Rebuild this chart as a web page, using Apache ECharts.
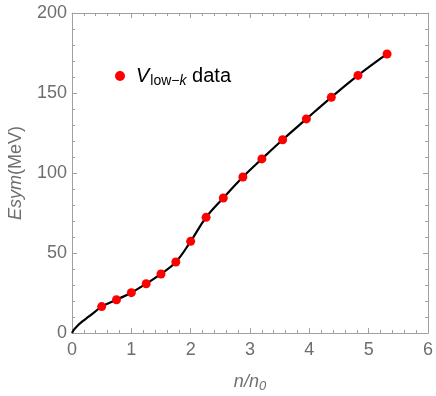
<!DOCTYPE html>
<html>
<head>
<meta charset="utf-8">
<script src="https://cdn.jsdelivr.net/npm/echarts@6/dist/echarts.min.js"></script>
<style>
  html, body { margin: 0; padding: 0; background: #fff; }
  #chart { width: 436px; height: 396px; }
</style>
</head>
<body>
<div id="chart"></div>
<script>
// V_low-k data points (n/n0, Esym in MeV)
const densityData = [0.5, 0.75, 1.0, 1.25, 1.5, 1.75, 2.0, 2.26, 2.55, 2.88, 3.2, 3.55, 3.95, 4.37, 4.82, 5.31];
const esymData = [16.5, 20.8, 25.2, 30.8, 36.9, 44.4, 57.3, 72.3, 84.4, 97.5, 108.8, 120.8, 133.8, 147.3, 161, 174.4];

// fitted curve
const curveX = [0, 0.04, 0.1, 0.18, 0.28, 0.38, 0.5, 0.75, 1.0, 1.25, 1.5, 1.75, 2.0, 2.26, 2.55, 2.88, 3.2, 3.55, 3.95, 4.37, 4.82, 5.31];
const curveY = [0, 2.4, 4.8, 7.4, 10.2, 13.1, 16.5, 20.8, 25.2, 30.8, 36.9, 44.4, 57.3, 72.3, 84.4, 97.5, 108.8, 120.8, 133.8, 147.3, 161, 174.4];

const axisGray = '#a0a0a0';
const labelGray = '#6e6e6e';
const font = "'Liberation Sans', Arial, sans-serif";

const tickCommon = {
  axisLine: { show: true, onZero: false, lineStyle: { color: axisGray, width: 1 } },
  axisTick: { show: true, inside: true, length: 5, lineStyle: { color: axisGray } },
  minorTick: { show: true, splitNumber: 5, length: 3, lineStyle: { color: axisGray } },
  splitLine: { show: false },
  minorSplitLine: { show: false }
};

const chart = echarts.init(document.getElementById('chart'));
chart.setOption({
  animation: false,
  grid: { left: 72, right: 8, top: 13, bottom: 63, containLabel: false, outerBoundsMode: 'none' },
  legend: {
    left: 110, top: 61,
    itemWidth: 10, itemHeight: 10, itemGap: 0,
    icon: 'circle',
    data: ['Vlowk'],
    formatter: () => '{v|V}{s|low−}{sk|k}{d| data}',
    textStyle: {
      fontFamily: font,
      color: '#000',
      rich: {
        v: { fontSize: 20, fontStyle: 'italic', fontFamily: font, padding: [0, 1, 0, 6] },
        s: { fontSize: 14, fontFamily: font, padding: [10, 0, 0, 0] },
        sk: { fontSize: 14, fontStyle: 'italic', fontFamily: font, padding: [10, 0, 0, 0] },
        d: { fontSize: 20, fontFamily: font }
      }
    }
  },
  xAxis: [
    Object.assign({
      type: 'value', min: 0, max: 6, interval: 1, position: 'bottom',
      axisLabel: { color: labelGray, fontSize: 18, fontFamily: font, margin: 8 },
      name: '{a|n/n}{b|0}', nameLocation: 'middle', nameGap: 37,
      nameTextStyle: {
        color: labelGray,
        rich: {
          a: { fontSize: 18, fontStyle: 'italic', fontFamily: font },
          b: { fontSize: 13, fontStyle: 'italic', fontFamily: font, padding: [10, 0, 0, 0] }
        }
      }
    }, tickCommon),
    Object.assign({
      type: 'value', min: 0, max: 6, interval: 1, position: 'top',
      axisLabel: { show: false }
    }, tickCommon)
  ],
  yAxis: [
    Object.assign({
      type: 'value', min: 0, max: 200, interval: 50, position: 'left',
      axisLabel: { color: labelGray, fontSize: 18, fontFamily: font, margin: 5 },
      name: '{a|Esym}{b|(MeV)}', nameLocation: 'middle', nameGap: 47, nameRotate: 90,
      nameTextStyle: {
        color: labelGray,
        rich: {
          a: { fontSize: 18, fontStyle: 'italic', fontFamily: font },
          b: { fontSize: 18, fontFamily: font }
        }
      }
    }, tickCommon),
    Object.assign({
      type: 'value', min: 0, max: 200, interval: 50, position: 'right',
      axisLabel: { show: false }
    }, tickCommon)
  ],
  series: [
    {
      name: 'curve',
      type: 'line',
      data: curveX.map((x, i) => [x, curveY[i]]),
      smooth: 0.4,
      showSymbol: false,
      lineStyle: { color: '#000', width: 2.2 },
      z: 2
    },
    {
      name: 'Vlowk',
      type: 'scatter',
      data: densityData.map((x, i) => [x, esymData[i]]),
      symbolSize: 9,
      itemStyle: { color: '#ff0000', opacity: 1 },
      z: 3
    }
  ]
});
</script>
</body>
</html>
